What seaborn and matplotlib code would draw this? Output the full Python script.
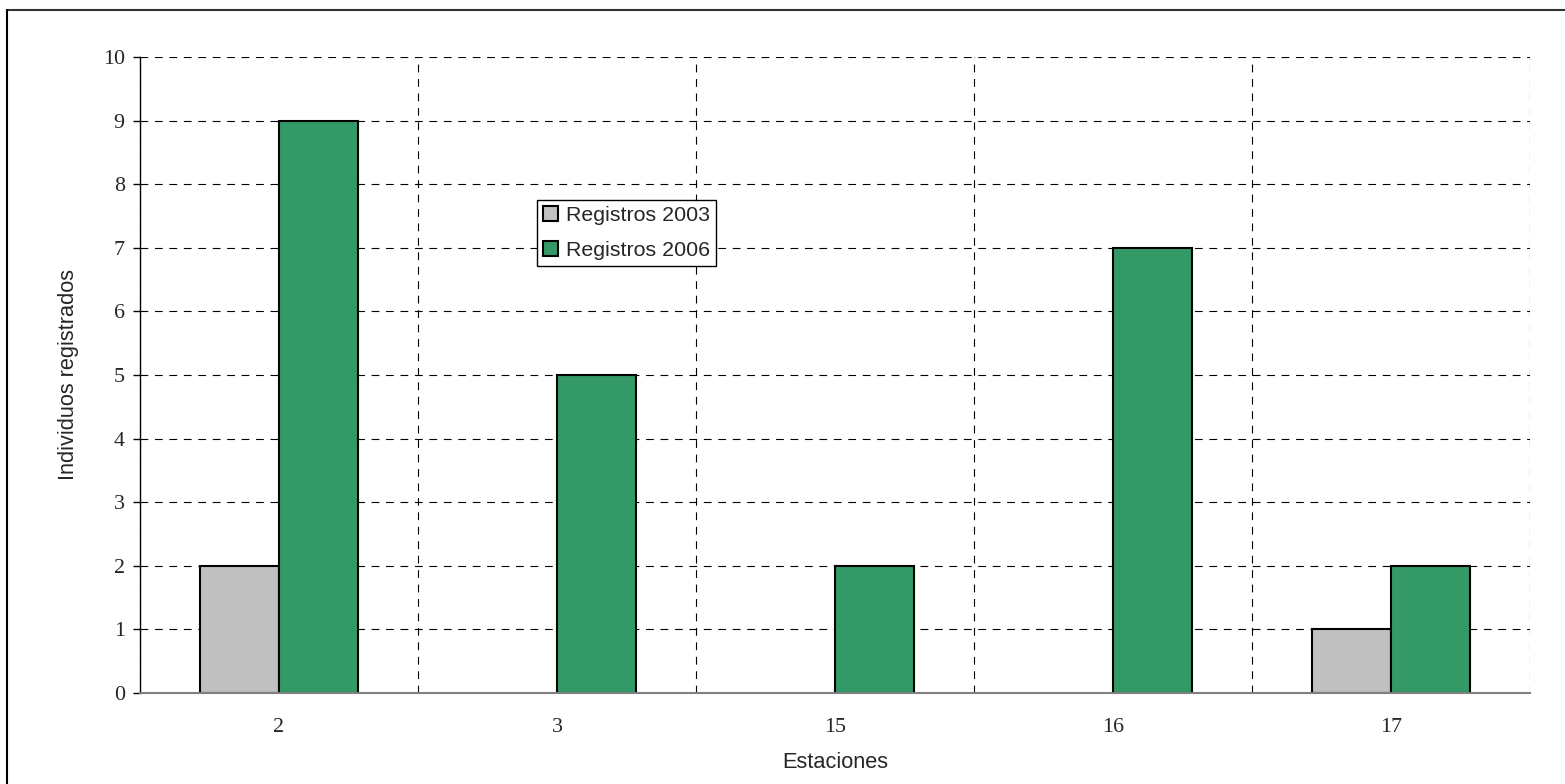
import matplotlib
matplotlib.use("Agg")
import matplotlib.pyplot as plt
import seaborn as sns
import pandas as pd
from matplotlib.lines import Line2D
from matplotlib.ticker import FixedLocator

# Data
estaciones = ["2", "3", "15", "16", "17"]
registros_2003 = [2, 0, 0, 0, 1]
registros_2006 = [9, 5, 2, 7, 2]
series = ["Registros 2003", "Registros 2006"]
colors = ["#C0C0C0", "#339966"]
y_ticks = list(range(0, 11))

df = pd.DataFrame({
    "Estaciones": estaciones * 2,
    "Valor": registros_2003 + registros_2006,
    "Serie": [series[0]] * len(estaciones) + [series[1]] * len(estaciones),
})

sns.set_style("white")
W, H = 1565, 784
fig = plt.figure(figsize=(W / 100, H / 100), dpi=100)
ax = fig.add_axes([140 / W, 91 / H, 1390 / W, 636 / H])

sns.barplot(data=df, x="Estaciones", y="Valor", hue="Serie", order=estaciones,
            hue_order=series, palette=colors, width=0.57, edgecolor="black",
            linewidth=1.5, saturation=1, dodge=True, ax=ax)

# hide zero-height bars outline
for p in ax.patches:
    if abs(p.get_height()) < 1e-9:
        p.set_edgecolor("none")

ax.set_xlim(-0.5, len(estaciones) - 0.5)
ax.set_ylim(0, 10)
ax.set_yticks(y_ticks)
ax.xaxis.set_minor_locator(FixedLocator([i - 0.5 for i in range(len(estaciones) + 1)]))

serif = "Liberation Serif"
sans = "Liberation Sans"
for lab in ax.get_xticklabels() + ax.get_yticklabels():
    lab.set_fontfamily(serif)
    lab.set_fontsize(15.8)

ax.tick_params(axis="x", which="major", length=0, pad=18)
ax.tick_params(axis="x", which="minor", length=5, width=1, color="#404040", direction="out")
ax.tick_params(axis="y", which="major", length=5, width=1, color="black", direction="out", pad=6, left=True)

ax.set_xlabel("Estaciones", fontfamily=sans, fontsize=15.7, labelpad=11)
ax.set_ylabel("Individuos registrados", fontfamily=sans, fontsize=15.7, labelpad=17)

ax.set_axisbelow(True)
ax.grid(False)
ax.grid(True, which="major", axis="y", color="black", linestyle=(0, (7, 6)), linewidth=0.8)
ax.grid(True, which="minor", axis="x", color="black", linestyle=(0, (7, 6)), linewidth=0.8)

for s in ["top", "right"]:
    ax.spines[s].set_visible(False)
ax.spines["left"].set_color("black")
ax.spines["left"].set_linewidth(1)
ax.spines["bottom"].set_color("#808080")
ax.spines["bottom"].set_linewidth(1.5)

handles, labels = ax.get_legend_handles_labels()
if ax.get_legend() is not None:
    ax.get_legend().remove()
leg = ax.legend(handles, labels, loc="upper left",
                bbox_to_anchor=((537 - 140) / 1390, (693 - 200) / 636),
                borderaxespad=0, frameon=True, fancybox=False, framealpha=1,
                edgecolor="black", prop={"family": sans, "size": 15.4},
                handlelength=0.7, handleheight=0.7, handletextpad=0.35,
                borderpad=0.3, labelspacing=0.72)
leg.get_frame().set_linewidth(1)
for h in leg.legend_handles:
    h.set_edgecolor("black")
    h.set_linewidth(1.5)

# Outer chart border (top and left visible)
fig.add_artist(Line2D([7 / W, 1.0], [1 - 10 / H, 1 - 10 / H], transform=fig.transFigure,
                      color="#333333", linewidth=1.5))
fig.add_artist(Line2D([7 / W, 7 / W], [0.0, 1 - 10 / H], transform=fig.transFigure,
                      color="black", linewidth=1.5))

fig.savefig("out.png", dpi=100)
